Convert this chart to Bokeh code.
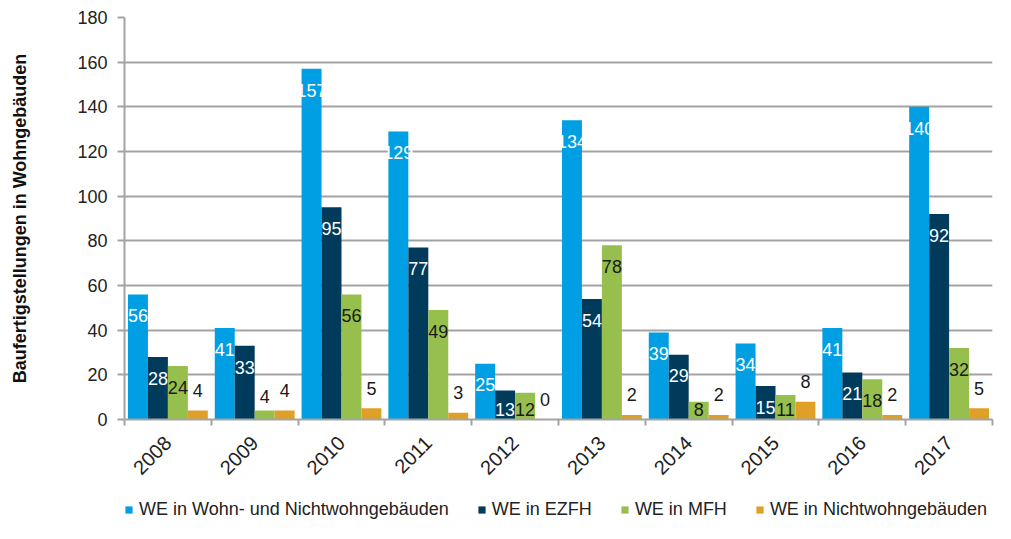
from math import pi
from bokeh.plotting import figure
from bokeh.layouts import column
from bokeh.models import (FixedTicker, Range1d, Legend, LegendItem, ColumnDataSource)
from bokeh.core.properties import value
from bokeh.embed import file_html
from bokeh.resources import INLINE

years = ["2008", "2009", "2010", "2011", "2012", "2013", "2014", "2015", "2016", "2017"]
series_names = ["WE in Wohn- und Nichtwohngebäuden", "WE in EZFH", "WE in MFH",
                "WE in Nichtwohngebäuden"]
we_gesamt = [56, 41, 157, 129, 25, 134, 39, 34, 41, 140]
we_ezfh = [28, 33, 95, 77, 13, 54, 29, 15, 21, 92]
we_mfh = [24, 4, 56, 49, 12, 78, 8, 11, 18, 32]
we_nwg = [4, 4, 5, 3, 0, 2, 2, 8, 2, 5]
y_ticks = [0, 20, 40, 60, 80, 100, 120, 140, 160, 180]

colors = ["#009FE3", "#003B5C", "#97BF4E", "#E0A028"]
label_colors = ["white", "white", "#1a1a1a", "#1a1a1a"]
FONT = "Liberation Sans"

W = 995
p = figure(width=W, height=497, output_backend="svg", toolbar_location=None,
           x_range=Range1d(0, len(years)), y_range=Range1d(0, 180),
           min_border_left=124, min_border_right=3, min_border_top=17,
           min_border_bottom=78)
p.outline_line_color = None
p.background_fill_color = "white"

all_series = [we_gesamt, we_ezfh, we_mfh, we_nwg]
bw = 0.23
offsets = [-1.5 * bw, -0.5 * bw, 0.5 * bw, 1.5 * bw]
for k, (vals, col) in enumerate(zip(all_series, colors)):
    xs = [i + 0.5 + offsets[k] for i in range(len(years))]
    if k == 3:
        ly = [v + 9 for v in vals]
    else:
        ly = [v + 6.5 if v < 6 else max(v - 9.5, 4.5) for v in vals]
    src = ColumnDataSource(dict(x=xs, top=vals, ly=ly, txt=[str(v) for v in vals]))
    p.vbar(x="x", top="top", bottom=0, width=bw, source=src, fill_color=col,
           line_color=None)
    p.text(x="x", y="ly", text="txt", source=src, text_align="center",
           text_baseline="middle", text_font=value(FONT), text_font_size="18px",
           text_color=label_colors[k])

grid_col = "#A3A3A3"
# y axis
p.yaxis.ticker = FixedTicker(ticks=y_ticks)
p.yaxis.axis_line_color = grid_col
p.yaxis.axis_line_width = 2
p.yaxis.major_tick_line_color = grid_col
p.yaxis.major_tick_line_width = 2
p.yaxis.major_tick_out = 7
p.yaxis.major_tick_in = 0
p.yaxis.minor_tick_line_color = None
p.yaxis.major_label_text_font = FONT
p.yaxis.major_label_text_font_size = "18px"
p.yaxis.major_label_text_color = "#222222"
p.yaxis.major_label_standoff = 10
p.yaxis.axis_label = "Baufertigstellungen in Wohngebäuden"
p.yaxis.axis_label_text_font = FONT
p.yaxis.axis_label_text_font_size = "18px"
p.yaxis.axis_label_text_font_style = "bold"
p.yaxis.axis_label_text_color = "#111111"
p.yaxis.axis_label_standoff = 44
p.ygrid.grid_line_color = grid_col
p.ygrid.grid_line_width = 2
p.xgrid.grid_line_color = None

# x axis
p.xaxis.ticker = FixedTicker(ticks=[i + 0.5 for i in range(len(years))],
                             minor_ticks=list(range(len(years) + 1)))
p.xaxis.major_label_overrides = {i + 0.5: y for i, y in enumerate(years)}
p.xaxis.axis_line_color = grid_col
p.xaxis.axis_line_width = 2
p.xaxis.major_tick_line_color = None
p.xaxis.minor_tick_line_color = grid_col
p.xaxis.minor_tick_line_width = 2
p.xaxis.minor_tick_out = 6
p.xaxis.minor_tick_in = 0
p.xaxis.major_label_orientation = pi / 4
p.xaxis.major_label_text_font = FONT
p.xaxis.major_label_text_font_size = "20px"
p.xaxis.major_label_text_color = "#222222"
p.xaxis.major_label_standoff = 14

# legend strip below the chart (its frame is aligned with the chart frame)
lg = figure(width=W, height=26, output_backend="svg", toolbar_location=None,
            x_range=Range1d(0, 1), y_range=Range1d(0, 1), min_border=0,
            x_axis_location=None, y_axis_location=None)
lg.outline_line_color = None
lg.xgrid.grid_line_color = None
lg.ygrid.grid_line_color = None
items = []
for name, col in zip(series_names, colors):
    # zero-area swatch renderer, only used for the legend entry
    r = lg.quad(left=[0.5], right=[0.5], bottom=[0.5], top=[0.5],
                fill_color=col, line_color=None)
    items.append(LegendItem(label=name, renderers=[r]))
legend = Legend(items=items, orientation="horizontal", location=(0, 3),
                glyph_width=9, glyph_height=9, label_standoff=6, spacing=28,
                padding=0, margin=0, border_line_color=None,
                background_fill_alpha=0,
                label_text_font=FONT, label_text_font_size="18px",
                label_text_color="#222222")
lg.add_layout(legend)

open("out.html", "w").write(file_html(column(p, lg), INLINE))
